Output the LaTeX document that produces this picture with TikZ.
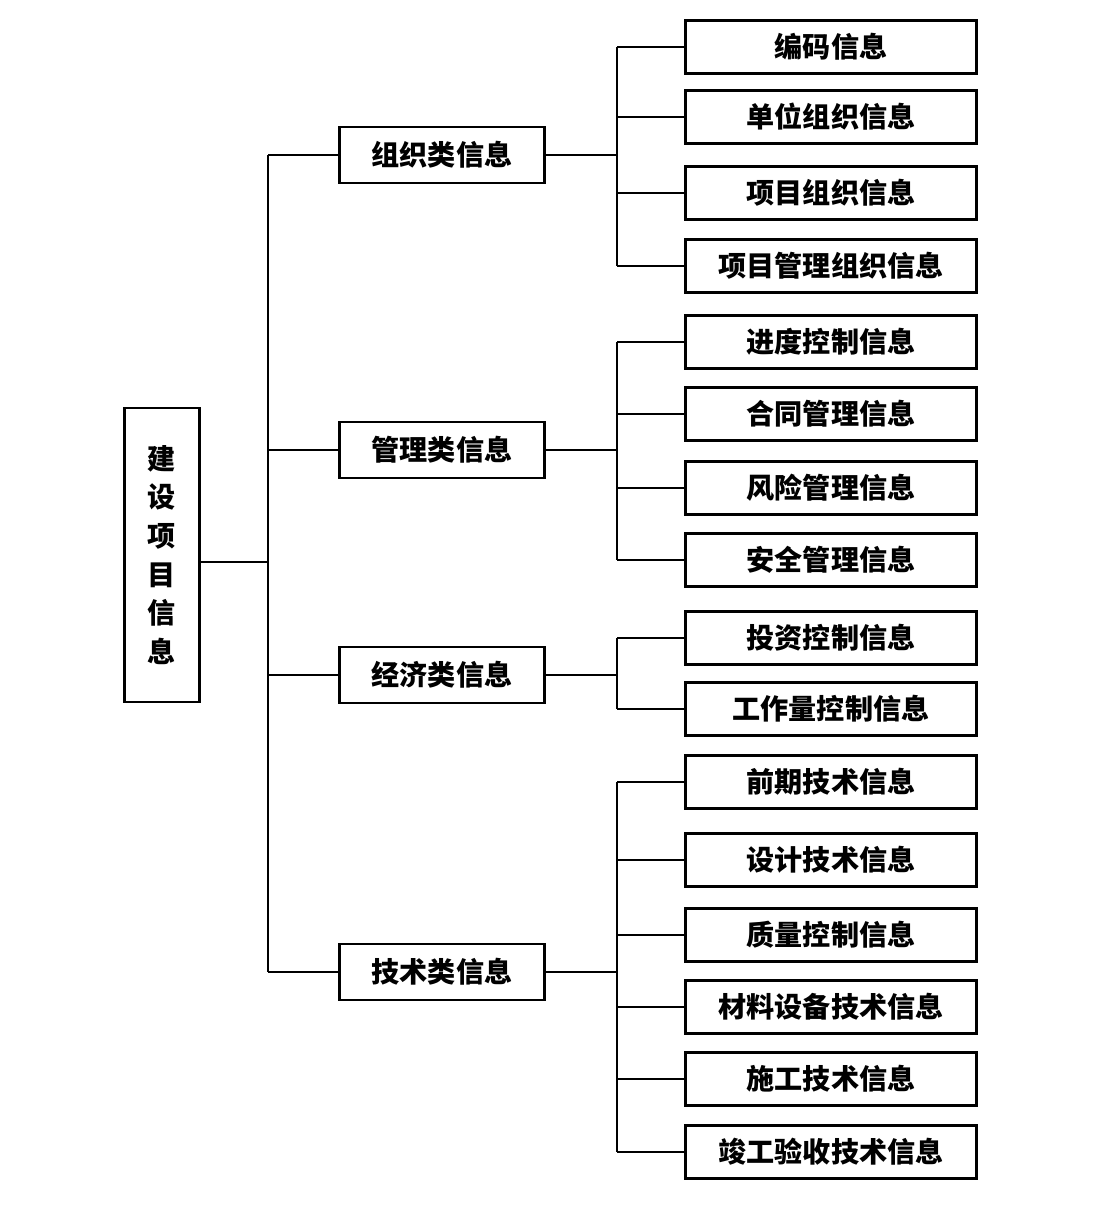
\documentclass[tikz,border=0pt]{standalone}
\usepackage{fontspec}
\newfontfamily\cjk{Noto Sans CJK SC}
\usetikzlibrary{positioning}
\tikzstyle{box} = [draw=black, line width=1.6pt, minimum width=5.82cm, minimum height=1.06cm, inner sep=0pt, font=\cjk\bfseries\fontsize{16}{19}\selectfont]
\tikzstyle{cat} = [box, minimum width=4.1cm, minimum height=1.12cm]
\tikzstyle{link} = [line width=1pt]

\begin{document}
\begin{tikzpicture}[x=0.02cm, y=-0.02cm]

  \useasboundingbox (0,0) rectangle (1100,1214);

  % root
  \node[box, minimum width=1.5cm, minimum height=5.88cm, align=center] (root) at (162,555)
    {建\\[3pt]设\\[3pt]项\\[3pt]目\\[3pt]信\\[3pt]息};

  % categories
  \node[cat] (org) at (442,155) {组织类信息};
  \node[cat] (man) at (442,450) {管理类信息};
  \node[cat] (eco) at (442,675) {经济类信息};
  \node[cat] (tec) at (442,972) {技术类信息};

  \coordinate (rj) at (268,562);
  \draw[link] (root.east |- rj) -- (rj);
  \draw[link] (268,155) -- (268,972);
  \foreach \c in {org, man, eco, tec} {
    \draw[link] (268,0 |- \c.west) -- (\c.west);
  }

  % leaves
  \foreach \n/\y/\t in {a1/47/编码信息, a2/117/单位组织信息, a3/193/项目组织信息, a4/266/项目管理组织信息,
      b1/342/进度控制信息, b2/414/合同管理信息, b3/488/风险管理信息, b4/560/安全管理信息,
      c1/638/投资控制信息, c2/709/工作量控制信息,
      d1/782/前期技术信息, d2/860/设计技术信息, d3/935/质量控制信息, d4/1007/材料设备技术信息,
      d5/1079/施工技术信息, d6/1152/竣工验收技术信息} {
    \node[box] (\n) at (831,\y) {\t};
    \draw[link] (617,0 |- \n.west) -- (\n.west);
  }

  % branches
  \foreach \c/\f/\l in {org/a1/a4, man/b1/b4, eco/c1/c2, tec/d1/d6} {
    \draw[link] (\c.east) -- (617,0 |- \c.east);
    \draw[link] (617,0 |- \f.west) -- (617,0 |- \l.west);
  }

\end{tikzpicture}
\end{document}
